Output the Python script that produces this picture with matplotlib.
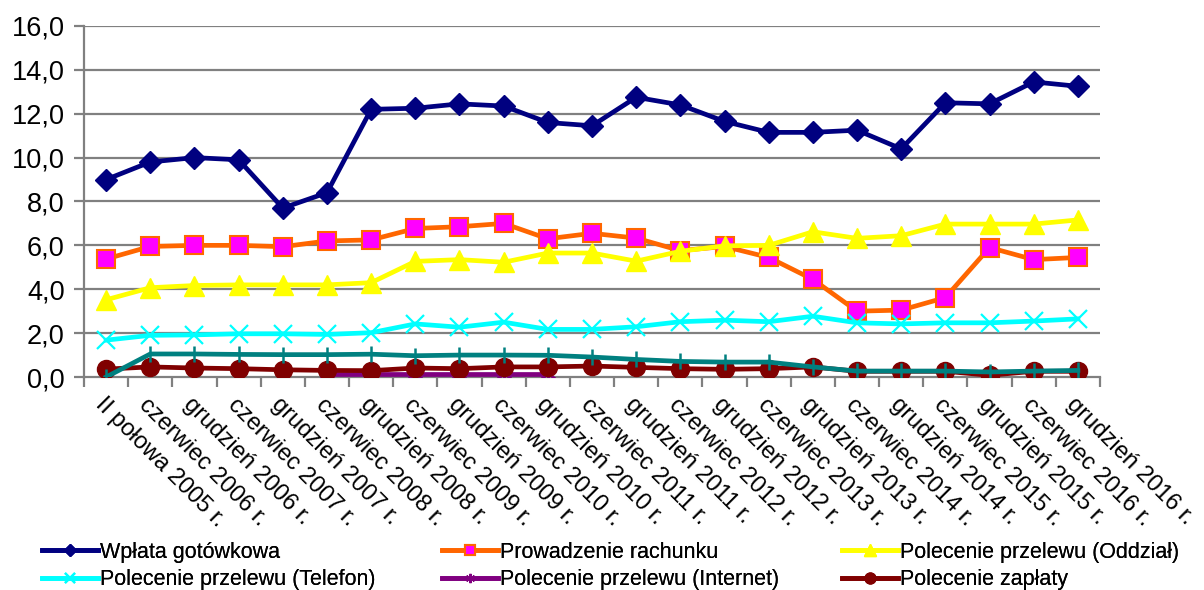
import numpy as np
import matplotlib
matplotlib.use("Agg")
from matplotlib import pyplot as plt
from matplotlib.ticker import FixedLocator, FuncFormatter

plt.rcParams['font.family'] = ['Liberation Sans', 'DejaVu Sans']

periods = ["II połowa 2005 r.", "czerwiec 2006 r.", "grudzień 2006 r.",
           "czerwiec 2007 r.", "grudzień 2007 r.", "czerwiec 2008 r.",
           "grudzień 2008 r.", "czerwiec 2009 r.", "grudzień 2009 r.",
           "czerwiec 2010 r.", "grudzień 2010 r.", "czerwiec 2011 r.",
           "grudzień 2011 r.", "czerwiec 2012 r.", "grudzień 2012 r.",
           "czerwiec 2013 r.", "grudzień 2013 r.", "czerwiec 2014 r.",
           "grudzień 2014 r.", "czerwiec 2015 r.", "grudzień 2015 r.",
           "czerwiec 2016 r.", "grudzień 2016 r."]

wplata = [9.0, 9.8, 10.0, 9.9, 7.7, 8.4, 12.2, 12.25, 12.45, 12.35, 11.6,
          11.45, 12.75, 12.4, 11.65, 11.15, 11.15, 11.25, 10.4, 12.5, 12.45,
          13.45, 13.25]
prowadzenie = [5.38, 5.95, 6.0, 6.0, 5.94, 6.2, 6.25, 6.77, 6.85, 7.0, 6.3,
               6.55, 6.33, 5.76, 5.95, 5.45, 4.45, 3.0, 3.05, 3.62, 5.9, 5.35,
               5.45]
oddzial = [3.52, 4.07, 4.17, 4.2, 4.2, 4.2, 4.3, 5.27, 5.35, 5.23, 5.65, 5.65,
           5.28, 5.73, 5.98, 6.0, 6.62, 6.32, 6.44, 6.97, 6.97, 6.97, 7.16]
telefon = [1.68, 1.9, 1.92, 1.97, 1.97, 1.94, 2.02, 2.42, 2.27, 2.5, 2.17,
           2.17, 2.29, 2.52, 2.59, 2.52, 2.77, 2.47, 2.42, 2.47, 2.47, 2.55,
           2.65]
internet = [np.nan, np.nan, np.nan, np.nan, np.nan, 0.13, 0.13, 0.13, 0.13,
            0.13, 0.13, np.nan, np.nan, np.nan, np.nan, np.nan, np.nan,
            np.nan, np.nan, np.nan, np.nan, np.nan, np.nan]
zaplata = [0.36, 0.46, 0.41, 0.38, 0.33, 0.3, 0.29, 0.41, 0.38, 0.46, 0.46,
           0.5, 0.44, 0.38, 0.35, 0.38, 0.46, 0.26, 0.26, 0.26, 0.08, 0.26,
           0.26]
inne = [0.0, 1.05, 1.05, 1.03, 1.02, 1.02, 1.04, 0.97, 1.0, 1.0, 0.99, 0.91,
        0.8, 0.71, 0.68, 0.68, 0.46, 0.27, 0.27, 0.27, 0.23, 0.27, 0.3]

yticks = [0, 2, 4, 6, 8, 10, 12, 14, 16]

x = np.arange(len(periods))

fig = plt.figure(figsize=(12.04, 5.9), dpi=100)
ax = fig.add_axes([0.0698, 0.361, 0.8438, 0.595])

grid_c = '#808080'
for v in yticks[1:]:
    ax.axhline(v, color=grid_c, lw=1.6, zorder=0)

h_wp, = ax.plot(x, wplata, color='#000080', lw=3.4, marker='D', ms=11,
                mfc='#000080', mec='#000080', label='Wpłata gotówkowa')
h_pr, = ax.plot(x, prowadzenie, color='#FF6600', lw=3.4, marker='s', ms=13,
                mfc='#FF00FF', mec='#FF6600', mew=1.5,
                label='Prowadzenie rachunku')
h_od, = ax.plot(x, oddzial, color='#FFFF00', lw=3.4, marker='^', ms=14,
                mfc='#FFFF00', mec='#FFFF00',
                label='Polecenie przelewu (Oddział)')
h_te, = ax.plot(x, telefon, color='#00FFFF', lw=3.4, marker='x', ms=13,
                mew=1.6, mec='#00FFFF', label='Polecenie przelewu (Telefon)')
h_in, = ax.plot(x, internet, color='#800080', lw=3.4, marker=(6, 2, 0),
                ms=11, mew=1.5, mec='#800080',
                label='Polecenie przelewu (Internet)')
h_za, = ax.plot(x, zaplata, color='#800000', lw=3.4, marker='o', ms=13,
                mfc='#800000', mec='#800000', label='Polecenie zapłaty')
ax.plot(x, inne, color='#008080', lw=3.4, marker='|', ms=12, mew=1.8,
        mec='#008080', label='_nolegend_')

ax.set_xlim(-0.5, len(periods) - 0.5)
ax.set_ylim(0, 16)

for s in ['top', 'right']:
    ax.spines[s].set_visible(False)
for s in ['left', 'bottom']:
    ax.spines[s].set_color(grid_c)
    ax.spines[s].set_linewidth(1.6)
    ax.spines[s].set_zorder(0.5)

ax.set_yticks(yticks)
ax.yaxis.set_major_formatter(FuncFormatter(lambda v, p: f"{v:.1f}".replace('.', ',')))
ax.tick_params(axis='y', length=7, width=1.6, color=grid_c, labelsize=19.5,
               pad=7)

ax.set_xticks(x)
ax.set_xticklabels(periods, rotation=-45, ha='left', va='top',
                   rotation_mode='anchor', fontsize=17)
ax.xaxis.set_minor_locator(FixedLocator(np.arange(-0.5, len(periods), 1)))
ax.tick_params(axis='x', which='major', length=0, pad=12)
ax.tick_params(axis='x', which='minor', length=7, width=1.6, color=grid_c)

# legend: three columns placed by hand, two rows each
columns = [[h_wp, h_te], [h_pr, h_in], [h_od, h_za]]
col_x = [42, 442, 842]
for hs, cx in zip(columns, col_x):
    leg = fig.legend(handles=hs, labels=[h.get_label() for h in hs],
                     loc='upper left', bbox_to_anchor=(cx / 1204, 1 - 542 / 590),
                     frameon=False, fontsize=15.5, handlelength=2.6,
                     handletextpad=0.1, labelspacing=0.3, markerscale=0.6,
                     borderpad=0, borderaxespad=0)
    fig.add_artist(leg)

fig.savefig('out.png', dpi=100)
